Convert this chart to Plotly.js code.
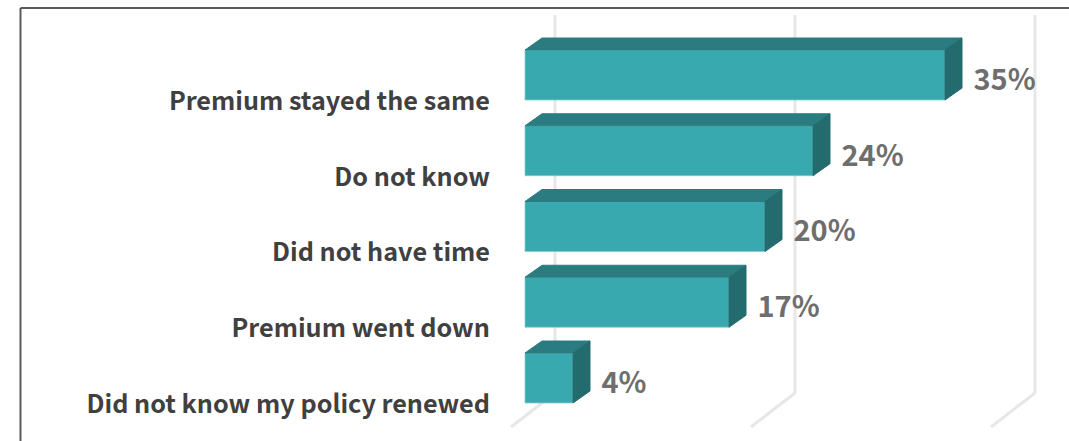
<!DOCTYPE html>
<html>
<head>
<meta charset="utf-8">
<title>Reasons for not shopping at renewal</title>
<script src="https://cdn.plot.ly/plotly-3.0.1.min.js"></script>
<style>html,body{margin:0;padding:0;background:#fff}#chart{width:1069px;height:441px}</style>
</head>
<body>
<div id="chart"></div>
<script>
// Survey results, listed top to bottom
const categories = ["Premium stayed the same", "Do not know", "Did not have time", "Premium went down", "Did not know my policy renewed"];
const shares = [35, 24, 20, 17, 4];
const gridValues = [0, 20, 40];

// Axis scale: px per unit on each axis
const W = 1069, H = 441, marginLeft = 500;
const pxPerPct = 12, pxPerRow = 75.75;
const zeroPx = 525, firstRowPx = 75;
const px = d => d / pxPerPct;
const py = d => d / pxPerRow;

// Pseudo-3D extrusion of the bars
const depthX = px(17), depthY = py(12);
const barHalf = py(25);
const rows = categories.map((_, i) => i);

function faces(build) {
  const xs = [], ys = [];
  shares.forEach((v, i) => {
    build(v, i).forEach(p => { xs.push(p[0]); ys.push(p[1]); });
    xs.push(null); ys.push(null);
  });
  return {x: xs, y: ys};
}
const topFaces = faces((v, i) => [
  [0, i - barHalf], [depthX, i - barHalf - depthY],
  [v + depthX, i - barHalf - depthY], [v, i - barHalf], [0, i - barHalf]
]);
const sideFaces = faces((v, i) => [
  [v, i - barHalf], [v + depthX, i - barHalf - depthY],
  [v + depthX, i + barHalf - depthY], [v, i + barHalf], [v, i - barHalf]
]);

const edge = "rgba(130,205,208,0.75)";
const polygon = (f, color) => ({
  type: "scatter", mode: "lines", x: f.x, y: f.y, fill: "toself",
  fillcolor: color, line: {color: color, width: 1}, hoverinfo: "skip", showlegend: false
});

const traces = [
  {
    type: "bar", orientation: "h", x: shares, y: rows, width: barHalf * 2,
    marker: {color: "#38A9AE", line: {color: edge, width: 1}},
    hoverinfo: "skip", showlegend: false
  },
  polygon(topFaces, "#2B7C80"),
  polygon(sideFaces, "#246B6E"),
  {
    type: "scatter", mode: "text",
    x: shares.map(v => v + px(28.5)),
    y: rows.map(i => i + py(7.5)),
    text: shares.map(v => v + "%"),
    textposition: "middle right",
    textfont: {family: "'Noto Sans CJK SC', 'Noto Sans', sans-serif", size: 29, color: "#6E6E6E", weight: 700},
    hoverinfo: "skip", showlegend: false
  }
];

// Walls and floor of the 3D frame, drawn behind the bars
const gridLine = {color: "#E7E7E7", width: 3};
const backX = px(30), frontX = px(-14);
const wallTop = py(15 - firstRowPx), floorBack = py(393 - firstRowPx), floorFront = py(427 - firstRowPx);
const gridShapes = [];
gridValues.forEach(v => {
  gridShapes.push({type: "line", layer: "below", xref: "x", yref: "y", x0: v + backX, x1: v + backX, y0: wallTop, y1: floorBack, line: gridLine});
  gridShapes.push({type: "line", layer: "below", xref: "x", yref: "y", x0: v + backX, x1: v + frontX, y0: floorBack, y1: floorFront, line: gridLine});
});

// Outer chart frame: left and top edges only
const plotWidth = W - marginLeft;
const paperX = p => (p - marginLeft) / plotWidth;
const paperY = p => 1 - p / H;
const frameLine = {color: "#5A5A5A", width: 2};
const frameShapes = [
  {type: "line", xref: "paper", yref: "paper", x0: paperX(20.5), x1: paperX(W), y0: paperY(8), y1: paperY(8), line: frameLine},
  {type: "line", xref: "paper", yref: "paper", x0: paperX(20.5), x1: paperX(20.5), y0: paperY(8), y1: paperY(H), line: frameLine}
];

const layout = {
  width: W, height: H,
  margin: {l: marginLeft, r: 0, t: 0, b: 0, pad: 0},
  paper_bgcolor: "#fff", plot_bgcolor: "#fff",
  showlegend: false,
  xaxis: {
    visible: false, fixedrange: true,
    range: [px(marginLeft - zeroPx), px(W - zeroPx)]
  },
  yaxis: {
    fixedrange: true,
    range: [py(H - firstRowPx), py(-firstRowPx)],
    tickmode: "array",
    tickvals: rows.map(i => i + barHalf + py(1)),
    ticktext: categories,
    tickfont: {family: "'Noto Sans CJK SC', 'Noto Sans', sans-serif", size: 25.2, color: "#404040", weight: 700},
    ticks: "outside", ticklen: 4, tickcolor: "rgba(0,0,0,0)",
    showgrid: false, zeroline: false, showline: false
  },
  shapes: gridShapes.concat(frameShapes)
};

Plotly.newPlot("chart", traces, layout, {displayModeBar: false, staticPlot: true});
</script>
</body>
</html>
